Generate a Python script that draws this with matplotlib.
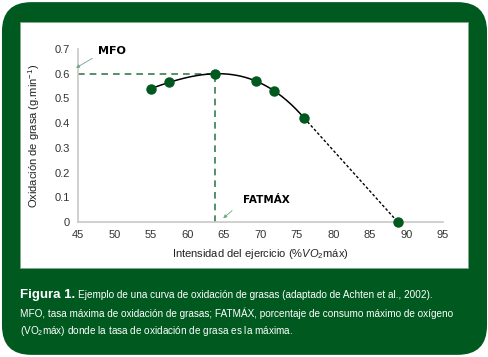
import numpy as np
import matplotlib.pyplot as plt
from matplotlib.patches import FancyBboxPatch, Rectangle

plt.rcParams["font.family"] = ["Liberation Sans", "DejaVu Sans"]
plt.rcParams["mathtext.fontset"] = "custom"
plt.rcParams["mathtext.rm"] = "Liberation Sans"
plt.rcParams["mathtext.it"] = "Liberation Sans:italic"

# data
intensity = [55, 57.5, 63.8, 69.4, 71.9, 76, 88.8]
fat_ox = [0.54, 0.565, 0.60, 0.57, 0.53, 0.42, 0.0]
x_ticks = [45, 50, 55, 60, 65, 70, 75, 80, 85, 90, 95]
y_ticks = [0, 0.1, 0.2, 0.3, 0.4, 0.5, 0.6, 0.7]
y_ticklabels = ["0", "0.1", "0.2", "0.3", "0.4", "0.5", "0.6", "0.7"]
mfo = 0.60
fatmax = 63.8

GREEN = "#00591f"
DASH = "#3a7d50"

fig = plt.figure(figsize=(4.89, 3.57), dpi=100)
fig.patch.set_facecolor("white")

# green card with rounded corners + white panel
bg = FancyBboxPatch((0.004, 0.006), 0.992, 0.988,
                    boxstyle="round,pad=0,rounding_size=0.06",
                    transform=fig.transFigure, facecolor=GREEN,
                    edgecolor="none", mutation_aspect=489 / 357, zorder=-3)
fig.patches.append(bg)
panel = Rectangle((20 / 489, 1 - 268 / 357), 448 / 489, 246 / 357,
                  transform=fig.transFigure, facecolor="white",
                  edgecolor="#7fa98a", linewidth=0.6, zorder=-2)
fig.patches.append(panel)

ax = fig.add_axes([78 / 489, 1 - 222 / 357, 365 / 489, 173 / 357])
ax.set_facecolor("none")
ax.set_xlim(45, 95)
ax.set_ylim(0, 0.7)
ax.set_xticks(x_ticks)
ax.set_yticks(y_ticks)
ax.set_yticklabels(y_ticklabels)
ax.tick_params(length=0, labelsize=8, colors="#333333", pad=6)
for s in ["top", "right"]:
    ax.spines[s].set_visible(False)
for s in ["left", "bottom"]:
    ax.spines[s].set_color("#c8c8c8")
    ax.spines[s].set_linewidth(1.2)

# smooth trend through the measured points, then dotted fall to zero
xs = np.array(intensity[:6])
ys = np.array(fat_ox[:6])
coef = np.polyfit(xs, ys, 3)
xx = np.linspace(xs[0], xs[-1], 200)
ax.plot(xx, np.polyval(coef, xx), color="black", lw=1.1, zorder=3)
ax.plot(intensity[5:], fat_ox[5:], color="black", lw=1.0, ls=(0, (2, 1.5)), zorder=3)

ax.plot([45, fatmax], [mfo, mfo], color=DASH, lw=1.2, ls=(0, (4, 3)), zorder=2)
ax.plot([fatmax, fatmax], [0, mfo], color=DASH, lw=1.2, ls=(0, (4, 3)), zorder=2)

ax.plot(intensity, fat_ox, "o", color=GREEN, ms=6.5, zorder=4, clip_on=False)

ax.annotate("", xy=(44.4, 0.618), xytext=(47.3, 0.668),
            arrowprops=dict(arrowstyle="-|>", color="#6fa883", lw=0.6,
                            mutation_scale=5), annotation_clip=False)
ax.text(47.7, 0.69, "MFO", fontsize=8, fontweight="bold", va="center",
        family="DejaVu Sans")
ax.annotate("", xy=(64.6, 0.008), xytext=(66.4, 0.053),
            arrowprops=dict(arrowstyle="-|>", color="#6fa883", lw=0.6,
                            mutation_scale=5), annotation_clip=False)
ax.text(67.6, 0.088, "FATMÁX", fontsize=7.5, fontweight="bold", va="center",
        family="DejaVu Sans")

ax.set_ylabel("Oxidación de grasa (g.min$^{-1}$)", fontsize=8, color="#222222", labelpad=9)
ax.set_xlabel(r"Intensidad del ejercicio (%$\it{VO}_2$máx)", fontsize=8,
              color="#222222", labelpad=5)

# caption
cap = dict(color="white", va="center")
t = fig.text(20 / 489, 1 - 295 / 357, "Figura 1.", fontsize=9.5, fontweight="bold", **cap)
fig.canvas.draw()
bb = t.get_window_extent()
fig.text((bb.x1 + 3) / 489, 1 - 295 / 357,
         "Ejemplo de una curva de oxidación de grasas (adaptado de Achten et al., 2002).",
         fontsize=7.2, **cap)
fig.text(20 / 489, 1 - 313 / 357,
         "MFO, tasa máxima de oxidación de grasas; FATMÁX, porcentaje de consumo máximo de oxígeno",
         fontsize=7.2, **cap)
fig.text(20 / 489, 1 - 331 / 357,
         "(VO$_2$máx) donde la tasa de oxidación de grasa es la máxima.",
         fontsize=7.2, **cap)

fig.savefig("out.png", dpi=100)
